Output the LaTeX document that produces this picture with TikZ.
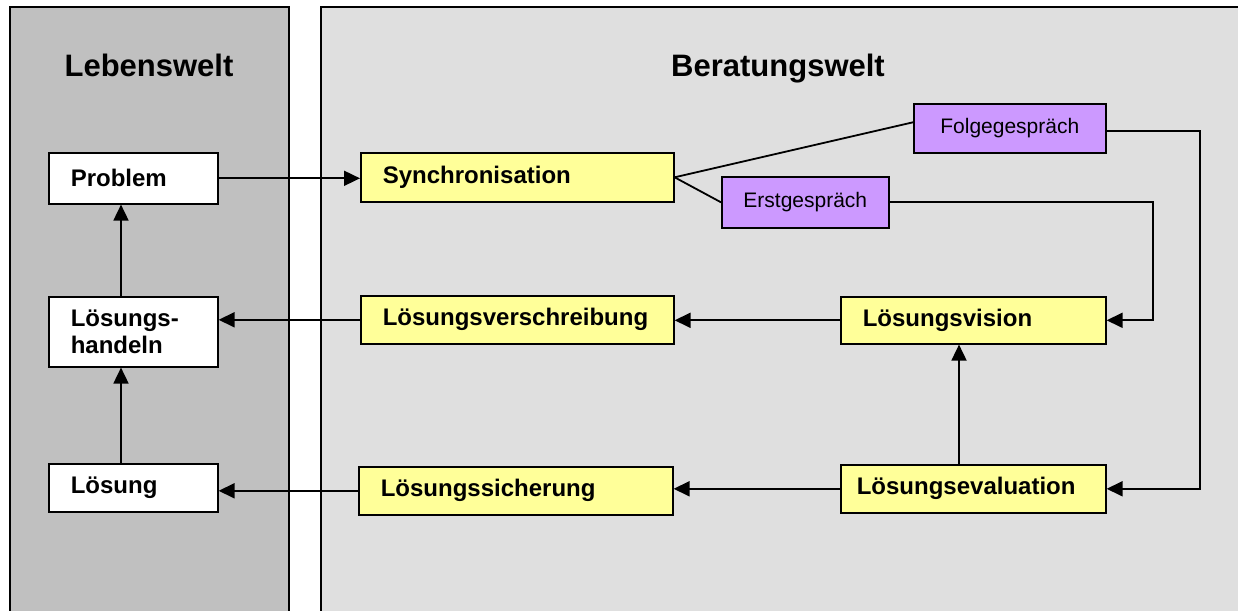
\documentclass[tikz,border=0pt]{standalone}
\usepackage{fontspec}
\setmainfont{Liberation Sans}
\usetikzlibrary{arrows.meta,calc,shadows}
\definecolor{lebengray}{HTML}{C0C0C0}
\definecolor{beratgray}{HTML}{DFDFDF}
\definecolor{boxyellow}{HTML}{FFFF99}
\definecolor{boxpurple}{HTML}{CC99FF}
\tikzset{
 panel/.style={draw=black, line width=2pt},
 basebox/.style={draw=black, line width=1.6pt, anchor=north west, inner xsep=22pt, inner ysep=0pt, align=left,
   font=\fontsize{24}{27}\selectfont\bfseries,
   drop shadow={shadow xshift=1.5pt, shadow yshift=-1.5pt, fill=black!45, opacity=0.8}},
 lifebox/.style={basebox, fill=white},
 counselbox/.style={basebox, fill=boxyellow},
 talkbox/.style={draw=black, line width=1.6pt, anchor=north west, fill=boxpurple, inner sep=0pt, align=center,
   font=\fontsize{21}{24}\selectfont,
   drop shadow={shadow xshift=1.5pt, shadow yshift=-1.5pt, fill=black!45, opacity=0.8}},
 conn/.style={line width=1.8pt},
 arr/.style={conn, -{Triangle[length=16pt,width=15pt]}},
 worldtitle/.style={anchor=base, font=\fontsize{31}{36}\selectfont\bfseries}
}
\begin{document}
\begin{tikzpicture}[x=1pt,y=-1pt]
\useasboundingbox (0,0) rectangle (1238,610);
% panels
\fill[lebengray] (10,7) rectangle (289,620);
\draw[panel] (10,620) -- (10,7) -- (289,7) -- (289,620);
\fill[beratgray] (321,7) rectangle (1245,620);
\draw[panel] (321,620) -- (321,7) -- (1245,7);
% titles
\node[worldtitle] (leben) at (149,76) {Lebenswelt};
\node[worldtitle] (berat) at (778,76) {Beratungswelt};
% Lebenswelt boxes
\node[lifebox, text width=125pt, minimum height=51pt] (problem) at (48,152) {Problem};
\node[lifebox, text width=125pt, minimum height=70pt] (handeln) at (48,296) {Lösungs-\\handeln};
\node[lifebox, text width=125pt, minimum height=48pt] (loesung) at (48,463) {Lösung};
% Beratungswelt boxes
\node[counselbox, text width=269pt, minimum height=49pt] (sync) at (360,152) {Synchronisation};
\node[counselbox, text width=269pt, minimum height=48pt] (verschr) at (360,295) {Lösungsverschreibung};
\node[counselbox, text width=270pt, minimum height=48pt] (sicher) at (358,466) {Lösungssicherung};
\node[counselbox, text width=221pt, minimum height=47pt] (vision) at (840,296) {Lösungsvision};
\node[counselbox, inner xsep=16pt, text width=233pt, minimum height=48pt] (eval) at (840,464) {Lösungsevaluation};
\node[talkbox, minimum width=192pt, minimum height=49pt] (folge) at (913,103) {Folgegespräch};
\node[talkbox, minimum width=167pt, minimum height=51pt] (erst) at (721,176) {Erstgespräch};
% helper coordinates
\coordinate (lx) at (121,0);
\coordinate (ex) at (959,0);
\coordinate (erstx) at (1153,0);
\coordinate (folgex) at (1200,0);
% connectors
\draw[arr] (problem.east) -- (problem.east -| sync.west);
\draw[conn] (sync.east) -- ([yshift=6pt]folge.west);
\draw[conn] (sync.east) -- (erst.west);
\draw[arr] (erst.east) -- (erst.east -| erstx) -- (vision.east -| erstx) -- (vision.east);
\draw[arr] ([yshift=-3pt]folge.east) -- ([yshift=-3pt]folge.east -| folgex) -- (eval.east -| folgex) -- (eval.east);
\draw[arr] (eval.north -| ex) -- (vision.south -| ex);
\draw[arr] (vision.west) -- (vision.west -| verschr.east);
\draw[arr] (verschr.west) -- (verschr.west -| handeln.east);
\draw[arr] (eval.west) -- (eval.west -| sicher.east);
\draw[arr] (sicher.west) -- (sicher.west -| loesung.east);
\draw[arr] (loesung.north -| lx) -- (handeln.south -| lx);
\draw[arr] (handeln.north -| lx) -- (problem.south -| lx);
\end{tikzpicture}
\end{document}
